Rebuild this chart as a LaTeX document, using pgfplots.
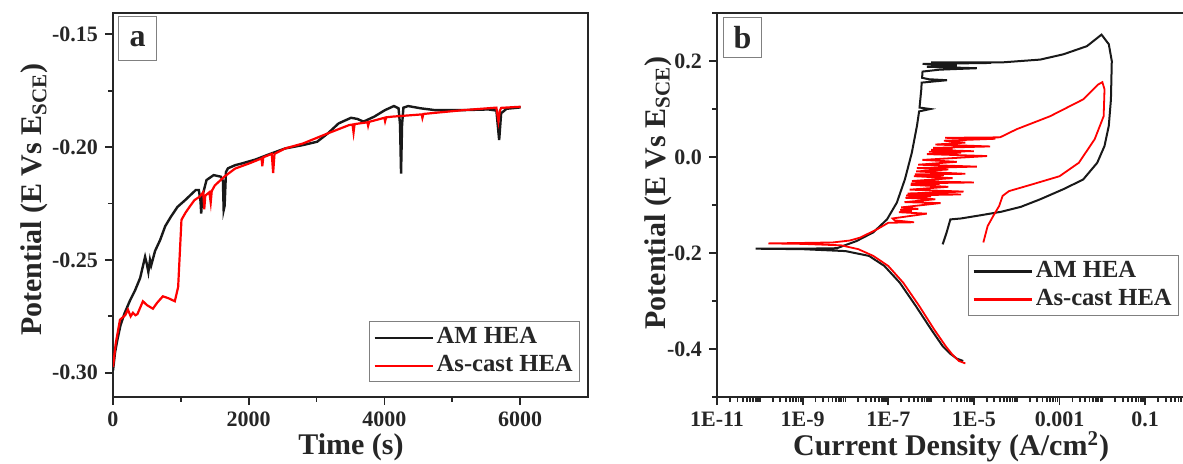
\documentclass[border=0pt]{standalone}
\usepackage{fontspec}
\setmainfont{Liberation Serif}
\usepackage{pgfplots}
\pgfplotsset{compat=1.18}
\usepackage{pgfplotstable}

% Panel a: open circuit potential vs time
\pgfplotstableread{
t E
0 -0.299
30 -0.291
63 -0.2856
110 -0.279
168 -0.2738
250 -0.268
326 -0.2634
400 -0.258
473 -0.2486
500 -0.252
521 -0.2553
545 -0.250
563 -0.2524
620 -0.246
694 -0.2412
770 -0.235
852 -0.2309
950 -0.2265
1063 -0.2235
1150 -0.221
1220 -0.2190
1265 -0.219
1290 -0.224
1300 -0.2294
1315 -0.222
1378 -0.2146
1483 -0.2124
1589 -0.2131
1620 -0.215
1631 -0.2279
1645 -0.226
1665 -0.211
1694 -0.2094
1800 -0.2080
1904 -0.2072
2100 -0.2055
2272 -0.2035
2535 -0.2006
2798 -0.1991
3009 -0.1976
3167 -0.1939
3324 -0.1895
3508 -0.1870
3600 -0.1875
3692 -0.1887
3850 -0.1865
4008 -0.1836
4140 -0.1818
4208 -0.1828
4230 -0.190
4245 -0.2117
4260 -0.190
4280 -0.1825
4350 -0.1818
4534 -0.1828
4745 -0.1836
5166 -0.1836
5533 -0.1833
5650 -0.1838
5691 -0.1969
5720 -0.185
5800 -0.1830
6007 -0.1824
}\amA

\pgfplotstableread{
t E
0 -0.2975
40 -0.287
103 -0.2765
180 -0.2745
220 -0.2720
260 -0.2750
294 -0.2734
330 -0.2745
360 -0.2740
441 -0.2683
500 -0.2700
588 -0.2716
650 -0.2690
735 -0.2661
820 -0.2670
911 -0.2683
960 -0.2620
1009 -0.2322
1070 -0.2290
1132 -0.2263
1200 -0.2235
1279 -0.2219
1330 -0.2200
1345 -0.2275
1360 -0.2215
1420 -0.2200
1440 -0.2245
1455 -0.2195
1500 -0.2170
1640 -0.2131
1800 -0.2095
2009 -0.2072
2190 -0.2050
2200 -0.2085
2215 -0.2045
2340 -0.2030
2360 -0.2115
2380 -0.2030
2535 -0.2006
2798 -0.1984
3167 -0.1939
3482 -0.1902
3530 -0.1900
3545 -0.1935
3560 -0.1898
3750 -0.1890
3760 -0.1905
3775 -0.1888
4000 -0.1870
4010 -0.1885
4025 -0.1868
4113 -0.1865
4550 -0.1855
4560 -0.1870
4575 -0.1853
5166 -0.1836
5650 -0.1825
5680 -0.1885
5700 -0.1840
5720 -0.1826
6007 -0.1821
}\castA

% Panel b: polarization curves, lx = log10(current density)
\pgfplotstableread{
lx E
-5.25 -0.425
-5.40 -0.420
-5.55 -0.410
-5.73 -0.394
-6.00 -0.359
-6.36 -0.310
-6.73 -0.262
-7.09 -0.227
-7.45 -0.206
-8.00 -0.196
-9.00 -0.192
-10.10 -0.191
-9.00 -0.191
-8.20 -0.190
-7.74 -0.175
-7.35 -0.157
-7.03 -0.130
-6.80 -0.095
-6.61 -0.046
-6.45 0.009
-6.33 0.065
-6.28 0.095
-6.02 0.100
-6.27 0.103
-6.23 0.140
-6.22 0.155
-5.63 0.160
-6.05 0.162
-6.21 0.165
-6.20 0.178
-5.80 0.182
-4.93 0.185
-6.10 0.188
-5.40 0.191
-6.20 0.194
-4.60 0.196
-6.00 0.197
-4.36 0.197
-3.45 0.203
-2.91 0.214
-2.36 0.231
-2.02 0.255
-1.85 0.235
-1.78 0.200
-1.80 0.120
-1.85 0.065
-1.95 0.023
-2.12 -0.012
-2.45 -0.047
-2.91 -0.067
-3.45 -0.088
-3.91 -0.104
-4.36 -0.114
-4.82 -0.121
-5.30 -0.128
-5.55 -0.130
-5.64 -0.158
-5.73 -0.182
}\amB

\pgfplotstableread{
lx E
-5.20 -0.430
-5.35 -0.425
-5.50 -0.412
-5.66 -0.394
-5.93 -0.359
-6.28 -0.310
-6.65 -0.262
-7.00 -0.227
-7.35 -0.206
-7.70 -0.192
-8.10 -0.184
-9.00 -0.181
-9.80 -0.180
-9.00 -0.179
-8.30 -0.178
-7.90 -0.174
-7.66 -0.168
-7.27 -0.151
-7.00 -0.137
-6.40 -0.136
-6.85 -0.132
-6.90 -0.128
-6.10 -0.118
-6.75 -0.115
-6.45 -0.112
-6.72 -0.110
-6.30 -0.108
-6.70 -0.105
-5.78 -0.096
-6.62 -0.094
-5.90 -0.088
-6.60 -0.085
-6.00 -0.082
-6.58 -0.080
-5.30 -0.078
-6.55 -0.076
-5.24 -0.072
-6.50 -0.068
-5.60 -0.062
-6.48 -0.058
-5.80 -0.056
-6.47 -0.055
-5.00 -0.053
-6.45 -0.050
-5.50 -0.044
-6.40 -0.040
-5.70 -0.038
-6.38 -0.036
-5.20 -0.035
-6.35 -0.030
-5.60 -0.026
-6.33 -0.023
-4.93 -0.020
-6.30 -0.016
-5.40 -0.010
-6.20 -0.006
-4.69 0.002
-6.10 0.006
-5.30 0.009
-6.05 0.011
-5.00 0.012
-6.00 0.015
-5.50 0.018
-5.95 0.019
-4.62 0.022
-5.90 0.026
-5.20 0.030
-5.70 0.034
-4.50 0.038
-5.67 0.040
-4.39 0.041
-4.00 0.058
-3.22 0.085
-2.45 0.120
-2.10 0.151
-2.00 0.156
-1.95 0.141
-1.97 0.085
-2.18 0.037
-2.55 -0.012
-3.00 -0.040
-3.64 -0.057
-4.18 -0.071
-4.33 -0.081
-4.41 -0.102
-4.55 -0.123
-4.68 -0.144
-4.78 -0.178
}\castB

\definecolor{myred}{RGB}{255,0,0}

\tikzset{
  labelbox/.style={draw=gray, line width=0.5pt, anchor=north west,
    minimum width=19pt, minimum height=22pt, inner sep=0pt,
    font=\bfseries\fontsize{16}{16}\selectfont, text=black!85},
}

\pgfplotsset{
  panel/.style={
    scale only axis,
    axis line style={line width=1.1pt, black!85},
    tick align=outside,
    tick pos=left,
    major tick length=4pt,
    minor tick length=2.5pt,
    tick style={black!85, line width=0.9pt},
    every tick label/.append style={font=\bfseries\fontsize{11}{13}\selectfont, black!85},
    xticklabel style={inner sep=1pt, yshift=-2.3pt},
    every axis x label/.append style={font=\bfseries\fontsize{15}{18}\selectfont, black!85},
    every axis y label/.append style={font=\bfseries\fontsize{15}{18}\selectfont, black!85},
    legend style={draw=gray, line width=0.5pt, fill=white,
      font=\bfseries\fontsize{12.3}{15}\selectfont, text=black!85,
      inner xsep=2pt, inner ysep=1pt, row sep=0pt,
      nodes={inner sep=1.5pt, text height=8.5pt, text depth=2.5pt},
      cells={anchor=west}},
    legend image code/.code={\draw[#1, line width=1.1pt] (0pt,0pt) -- (29pt,0pt);},
  },
}

\begin{document}
\def\minorlist{}%
\foreach \d in {-11,...,-1}{%
  \foreach \f in {0.30103,0.47712,0.60206,0.69897,0.77815,0.84510,0.90309,0.95424}{%
    \pgfmathsetmacro\v{\d+\f}%
    \xdef\minorlist{\minorlist\v,}}}%
\begin{tikzpicture}
\path[use as bounding box] (0pt,0pt) rectangle (591.5pt,231.5pt);

\begin{axis}[panel,
  at={(56.5pt,33.15pt)}, anchor=south west,
  width=237.5pt, height=191.7pt,
  xmin=0, xmax=7000, ymin=-0.3106, ymax=-0.1407,
  xtick={0,2000,4000,6000}, xticklabels={0,2000,4000,6000},
  minor xtick={1000,3000,5000},
  ytick={-0.30,-0.25,-0.20,-0.15}, yticklabels={-0.30,-0.25,-0.20,-0.15},
  minor ytick={-0.275,-0.225,-0.175},
  xlabel={Time (s)},
  ylabel={Potential (E Vs E\textsubscript{SCE})},
  every axis x label/.append style={at={(axis description cs:0.501,-0.152)}, anchor=base},
  every axis y label/.append style={at={(axis description cs:-0.1495,0.514)}, anchor=base},
  legend style={at={(0.539,0.197)}, anchor=north west},
]
\addplot[black!90, line width=1.2pt] table[x=t, y=E] {\amA};
\addlegendentry{AM HEA}
\addplot[myred, line width=1.1pt] table[x=t, y=E] {\castA};
\addlegendentry{As-cast HEA}
\node[labelbox] at (rel axis cs:0.011,0.992) {a};
\end{axis}

\begin{axis}[panel,
  at={(358.5pt,33pt)}, anchor=south west,
  width=235.5pt, height=192pt,
  xmin=-11, xmax=0, ymin=-0.5, ymax=0.3,
  xtick={-11,-9,-7,-5,-3,-1},
  xticklabels={1E-11,1E-9,1E-7,1E-5,0.001,0.1},
  minor xtick/.expanded={\minorlist -10,-8,-6,-4,-2,0},
  ytick={-0.4,-0.2,0,0.2}, yticklabels={-0.4,-0.2,0.0,0.2},
  minor ytick={-0.5,-0.3,-0.1,0.1,0.3},
  xlabel={Current Density (A/cm\textsuperscript{2})},
  ylabel={Potential (E Vs E\textsubscript{SCE})},
  every axis x label/.append style={at={(axis description cs:0.497,-0.153)}, anchor=base},
  every axis y label/.append style={at={(axis description cs:-0.110,0.531)}, anchor=base},
  legend style={at={(0.533,0.370)}, anchor=north west},
]
\addplot[black!90, line width=1.0pt] table[x=lx, y=E] {\amB};
\addlegendentry{AM HEA}
\addplot[myred, line width=0.9pt] table[x=lx, y=E] {\castB};
\addlegendentry{As-cast HEA}
\node[labelbox, minimum height=20pt] at (rel axis cs:0.013,0.99) {b};
\end{axis}
\end{tikzpicture}
\end{document}
